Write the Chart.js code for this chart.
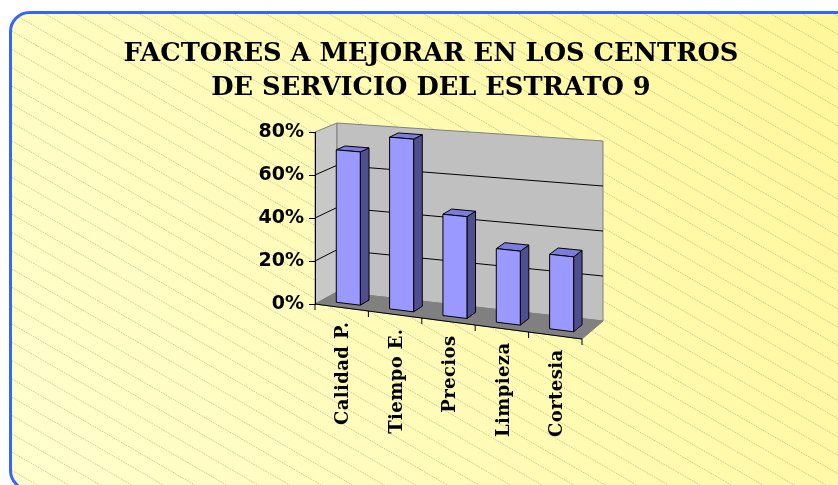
<!DOCTYPE html>
<html>
<head>
<meta charset="utf-8">
<script src="https://cdn.jsdelivr.net/npm/chart.js@4"></script>
<style>
	html, body { margin: 0; padding: 0; background: #fff; }
</style>
</head>
<body>
<canvas id="factorsChart" width="838" height="485"></canvas>
<script>
const categories = ['Calidad P.', 'Tiempo E.', 'Precios', 'Limpieza', 'Cortesia'];
const values = [0.71, 0.79, 0.46, 0.33, 0.33];
const yTicks = [0, 0.2, 0.4, 0.6, 0.8];
const titleLines = ['FACTORES A MEJORAR EN LOS CENTROS', 'DE SERVICIO DEL ESTRATO 9'];

// perspective of the fake 3d box (screen offsets)
const slopeBottom = 35, slopeTop = 24;
const depthLB = [22, -12], depthLT = [22, -9], depthRB = [21, -18], depthRT = [21, -15];
const barFront = 0.3, barBack = 0.7;

const lerp = (a, b, t) => [a[0] + (b[0] - a[0]) * t, a[1] + (b[1] - a[1]) * t];

function projector(area) {
	const fl0 = [area.left, area.bottom], fl1 = [area.left, area.top];
	const fr0 = [area.right, area.bottom + slopeBottom], fr1 = [area.right, area.top + slopeTop];
	const add = (p, d) => [p[0] + d[0], p[1] + d[1]];
	const bl0 = add(fl0, depthLB), bl1 = add(fl1, depthLT);
	const br0 = add(fr0, depthRB), br1 = add(fr1, depthRT);
	return (u, v, w) => {
		const f = lerp(lerp(fl0, fr0, u), lerp(fl1, fr1, u), v);
		const b = lerp(lerp(bl0, br0, u), lerp(bl1, br1, u), v);
		return lerp(f, b, w);
	};
}

function poly(ctx, pts, fill, stroke) {
	ctx.beginPath();
	ctx.moveTo(pts[0][0], pts[0][1]);
	for (let i = 1; i < pts.length; i++) ctx.lineTo(pts[i][0], pts[i][1]);
	ctx.closePath();
	if (fill) { ctx.fillStyle = fill; ctx.fill(); }
	if (stroke) { ctx.strokeStyle = stroke; ctx.lineWidth = 1; ctx.stroke(); }
}

function roundRect(ctx, x, y, w, h, r) {
	ctx.beginPath();
	ctx.moveTo(x + r, y);
	ctx.lineTo(x + w - r, y);
	ctx.arcTo(x + w, y, x + w, y + r, r);
	ctx.lineTo(x + w, y + h - r);
	ctx.arcTo(x + w, y + h, x + w - r, y + h, r);
	ctx.lineTo(x + r, y + h);
	ctx.arcTo(x, y + h, x, y + h - r, r);
	ctx.lineTo(x, y + r);
	ctx.arcTo(x, y, x + r, y, r);
	ctx.closePath();
}

const scenePlugin = {
	id: 'scene',
	beforeDraw(chart) {
		const ctx = chart.ctx;
		const area = chart.chartArea;
		const P = projector(area);
		const yMax = chart.scales.y.max;

		// panel background
		ctx.save();
		roundRect(ctx, 10.5, 12.5, 860, 477, 19);
		const grad = ctx.createLinearGradient(0, 485, 838, 0);
		grad.addColorStop(0, '#ffffcf');
		grad.addColorStop(1, '#fff79a');
		ctx.fillStyle = grad;
		ctx.fill();
		ctx.save();
		ctx.clip();
		ctx.strokeStyle = 'rgba(150,140,110,0.55)';
		ctx.lineWidth = 1;
		ctx.setLineDash([1, 1]);
		for (let c = 6 - 18.3 * 40; c < 485; c += 18.3) {
			ctx.beginPath();
			ctx.moveTo(0, c);
			ctx.lineTo(900, c + 900 * 0.58);
			ctx.stroke();
		}
		ctx.restore();
		roundRect(ctx, 10.5, 12.5, 860, 477, 19);
		ctx.strokeStyle = '#3366ff';
		ctx.lineWidth = 3;
		ctx.stroke();
		ctx.restore();

		// walls and floor
		ctx.save();
		poly(ctx, [P(0, 0, 0), P(0, 1, 0), P(0, 1, 1), P(0, 0, 1)], '#c8c8c8', '#808080');
		poly(ctx, [P(0, 0, 1), P(0, 1, 1), P(1, 1, 1), P(1, 0, 1)], '#c0c0c0', '#808080');
		poly(ctx, [P(0, 0, 0), P(0, 0, 1), P(1, 0, 1), P(1, 0, 0)], '#808080', '#808080');

		// gridlines on side and back walls
		ctx.strokeStyle = '#000';
		ctx.lineWidth = 1;
		chart.scales.y.ticks.forEach(t => {
			const v = t.value / yMax;
			if (v <= 0 || v >= 1) return;
			const a = P(0, v, 0), b = P(0, v, 1), c = P(1, v, 1);
			ctx.beginPath();
			ctx.moveTo(a[0], a[1]);
			ctx.lineTo(b[0], b[1]);
			ctx.lineTo(c[0], c[1]);
			ctx.stroke();
		});

		// front floor edge with category ticks
		const e0 = P(0, 0, 0), e1 = P(1, 0, 0);
		ctx.beginPath();
		ctx.moveTo(e0[0], e0[1]);
		ctx.lineTo(e1[0], e1[1]);
		for (let i = 0; i <= categories.length; i++) {
			const p = P(i / categories.length, 0, 0);
			ctx.moveTo(p[0], p[1]);
			ctx.lineTo(p[0], p[1] + 6);
		}
		ctx.stroke();
		ctx.restore();
	},
	afterDatasetsDraw(chart) {
		const ctx = chart.ctx;
		const area = chart.chartArea;
		const P = projector(area);
		const meta = chart.getDatasetMeta(0);
		const w = area.right - area.left;
		const h = area.bottom - area.top;

		ctx.save();
		ctx.lineJoin = 'round';
		meta.data.forEach(bar => {
			const p = bar.getProps(['x', 'y', 'base', 'width'], true);
			const u0 = (p.x - p.width / 2 - area.left) / w;
			const u1 = (p.x + p.width / 2 - area.left) / w;
			const v = (area.bottom - p.y) / h;
			poly(ctx, [P(u1, 0, barFront), P(u1, 0, barBack), P(u1, v, barBack), P(u1, v, barFront)], '#4f4f8f', '#000');
			poly(ctx, [P(u0, v, barFront), P(u1, v, barFront), P(u1, v, barBack), P(u0, v, barBack)], '#7c7cdc', '#000');
			poly(ctx, [P(u0, 0, barFront), P(u1, 0, barFront), P(u1, v, barFront), P(u0, v, barFront)], '#9999ff', '#000');
		});

		// category labels, rotated along the front edge
		ctx.fillStyle = '#000';
		ctx.font = 'bold 18px "DejaVu Serif"';
		ctx.letterSpacing = '0.4px';
		ctx.textAlign = 'right';
		ctx.textBaseline = 'middle';
		const xs = chart.scales.x;
		xs.getLabels().forEach((label, i) => {
			const u = (xs.getPixelForValue(i) - area.left) / w;
			const p = P(u, 0, 0);
			ctx.save();
			ctx.translate(p[0] + 2, p[1] + 14);
			ctx.rotate(-Math.PI / 2);
			ctx.fillText(label, 0, 0);
			ctx.restore();
		});

		// title
		ctx.letterSpacing = '0px';
		ctx.font = 'bold 25.7px "DejaVu Serif"';
		ctx.textAlign = 'center';
		ctx.textBaseline = 'alphabetic';
		ctx.fillText(titleLines[0], 431, 61);
		ctx.fillText(titleLines[1], 431, 95);
		ctx.restore();
	}
};

new Chart(document.getElementById('factorsChart'), {
	type: 'bar',
	data: {
		labels: categories,
		datasets: [{
			data: values,
			backgroundColor: 'rgba(0,0,0,0)',
			borderWidth: 0,
			barPercentage: 0.45,
			categoryPercentage: 1
		}]
	},
	options: {
		responsive: false,
		animation: false,
		devicePixelRatio: 1,
		layout: { padding: { left: 255, top: 132, right: 256, bottom: 181 } },
		plugins: { legend: { display: false }, tooltip: { enabled: false }, title: { display: false } },
		scales: {
			x: { display: false },
			y: {
				min: 0,
				max: 0.8,
				afterFit: scale => { scale.width = 60; },
				afterBuildTicks: scale => { scale.ticks = yTicks.map(v => ({ value: v })); },
				grid: { drawOnChartArea: false, drawTicks: true, tickLength: 6, color: '#000' },
				border: { display: true, color: '#000', width: 1 },
				ticks: {
					padding: 5,
					color: '#000',
					font: { family: 'DejaVu Sans', weight: 'bold', size: 19 },
					callback: v => Math.round(v * 100) + '%'
				}
			}
		}
	},
	plugins: [scenePlugin]
});
</script>
</body>
</html>
